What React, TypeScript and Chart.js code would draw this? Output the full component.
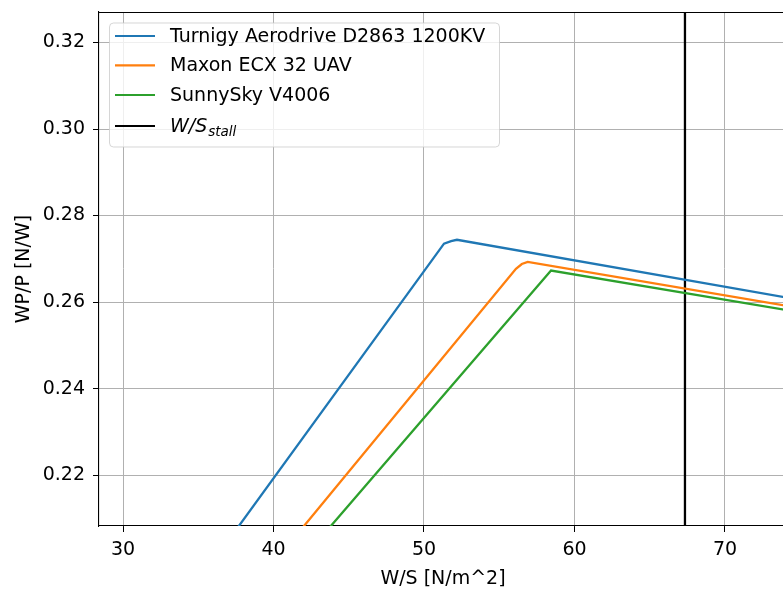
import React, { useEffect, useRef } from "react";
import { Chart, registerables } from "chart.js";

Chart.register(...registerables);

const SERIES_LABELS = ["Turnigy Aerodrive D2863 1200KV", "Maxon ECX 32 UAV", "SunnySky V4006"];
const SERIES_COLORS = ["#1f77b4", "#ff7f0e", "#2ca02c"];

const TURNIGY_X = [37.5, 51.33, 51.8, 52.19, 74.5];
const TURNIGY_Y = [0.2073, 0.2735, 0.2741, 0.2744, 0.2608];

const MAXON_X = [41.8, 56.11, 56.5, 56.89, 74.5];
const MAXON_Y = [0.2073, 0.2677, 0.2688, 0.2693, 0.2589];

const SUNNY_X = [43.6, 58.44, 74.5];
const SUNNY_Y = [0.2074, 0.2673, 0.2579];

const STALL_X = 67.34;
const STALL_Y = [0.2, 0.34];

const X_TICKS = [30, 40, 50, 60, 70];
const Y_TICKS = [0.22, 0.24, 0.26, 0.28, 0.3, 0.32];
const X_MIN = 28.405;
const X_MAX = 74.12;
const Y_MIN = 0.20825;
const Y_MAX = 0.32704;

const FONT = "'DejaVu Sans', sans-serif";

function pts(xs: number[], ys: number[]) {
  return xs.map((x, i) => ({ x, y: ys[i] }));
}

const framePlugin = {
  id: "mplFrame",
  afterDraw(chart: any) {
    const { ctx, chartArea } = chart;
    ctx.save();
    ctx.strokeStyle = "#000";
    ctx.lineWidth = 1.1;
    ctx.beginPath();
    ctx.moveTo(chartArea.left, chartArea.top + 0.5);
    ctx.lineTo(chartArea.right, chartArea.top + 0.5);
    ctx.moveTo(chartArea.right, chartArea.top);
    ctx.lineTo(chartArea.right, chartArea.bottom);
    ctx.stroke();

    // legend
    const lx = chartArea.left + 10;
    const ly = chartArea.top + 10.5;
    const w = 390;
    const h = 124;
    ctx.beginPath();
    (ctx as any).roundRect(lx + 0.5, ly + 0.5, w, h, 4);
    ctx.fillStyle = "rgba(255,255,255,0.8)";
    ctx.fill();
    ctx.strokeStyle = "rgba(204,204,204,0.8)";
    ctx.lineWidth = 1;
    ctx.stroke();

    const rows = [13.5, 42.8, 72.5, 103.5];
    const colors = [...SERIES_COLORS, "#000"];
    ctx.textBaseline = "middle";
    ctx.textAlign = "left";
    rows.forEach((ry, i) => {
      const y = ly + ry;
      ctx.strokeStyle = colors[i];
      ctx.lineWidth = 2.2;
      ctx.beginPath();
      ctx.moveTo(lx + 6, y);
      ctx.lineTo(lx + 46, y);
      ctx.stroke();
      ctx.fillStyle = "#000";
      if (i < 3) {
        ctx.font = `19px ${FONT}`;
        ctx.fillText(SERIES_LABELS[i], lx + 61, y + 1);
      } else {
        ctx.font = `italic 19px ${FONT}`;
        ctx.fillText("W/S", lx + 61, y + 1);
        const tw = ctx.measureText("W/S").width;
        ctx.font = `italic 13.5px ${FONT}`;
        ctx.fillText("stall", lx + 61 + tw + 1, y + 6);
      }
    });
    ctx.restore();
  },
};

export default function App() {
  const ref = useRef<HTMLCanvasElement>(null);
  useEffect(() => {
    if (!ref.current) return;
    Chart.defaults.font.family = FONT;
    const chart = new Chart(ref.current, {
      type: "line",
      data: {
        datasets: [
          { label: SERIES_LABELS[0], data: pts(TURNIGY_X, TURNIGY_Y), borderColor: SERIES_COLORS[0] },
          { label: SERIES_LABELS[1], data: pts(MAXON_X, MAXON_Y), borderColor: SERIES_COLORS[1] },
          { label: SERIES_LABELS[2], data: pts(SUNNY_X, SUNNY_Y), borderColor: SERIES_COLORS[2] },
          { label: "W/S_stall", data: STALL_Y.map((y) => ({ x: STALL_X, y })), borderColor: "#000" },
        ] as any,
      },
      options: {
        animation: false,
        responsive: false,
        devicePixelRatio: 1,
        layout: { padding: { top: 12, right: 3, left: 0, bottom: 0 } },
        elements: {
          point: { radius: 0, hoverRadius: 0 },
          line: { borderWidth: 2.3, tension: 0, fill: false },
        },
        plugins: { legend: { display: false }, tooltip: { enabled: false } },
        scales: {
          x: {
            type: "linear",
            min: X_MIN,
            max: X_MAX,
            afterBuildTicks: (s: any) => {
              s.ticks = X_TICKS.map((v) => ({ value: v }));
            },
            afterFit: (s: any) => {
              s.height = 67;
              s.paddingLeft = 0;
              s.paddingRight = 0;
            },
            ticks: { font: { size: 19, family: FONT }, color: "#000", padding: 7, maxRotation: 0 },
            grid: { color: "#b0b0b0", lineWidth: 1, tickColor: "#000", tickLength: 6, drawTicks: true },
            border: { color: "#000", width: 1.1 },
            title: { display: true, text: "W/S [N/m^2]", font: { size: 19, family: FONT }, color: "#000", padding: { top: 2, bottom: 3 } },
          },
          y: {
            type: "linear",
            min: Y_MIN,
            max: Y_MAX,
            afterBuildTicks: (s: any) => {
              s.ticks = Y_TICKS.map((v) => ({ value: v }));
            },
            afterFit: (s: any) => {
              s.width = 99;
              s.paddingTop = 0;
              s.paddingBottom = 0;
            },
            ticks: {
              font: { size: 19, family: FONT },
              color: "#000",
              padding: 8,
              callback: (v: any) => Number(v).toFixed(2),
            },
            grid: { color: "#b0b0b0", lineWidth: 1, tickColor: "#000", tickLength: 6, drawTicks: true },
            border: { color: "#000", width: 1.1 },
            title: { display: true, text: "WP/P [N/W]", font: { size: 19, family: FONT }, color: "#000", padding: { top: 13, bottom: 0 } },
          },
        },
      },
      plugins: [framePlugin],
    });
    return () => chart.destroy();
  }, []);
  return (
    <div style={{ position: "fixed", left: 0, top: 0, width: 783, height: 593, overflow: "hidden", background: "#fff" }}>
      <canvas ref={ref} width={790} height={593} style={{ display: "block" }} />
    </div>
  );
}
